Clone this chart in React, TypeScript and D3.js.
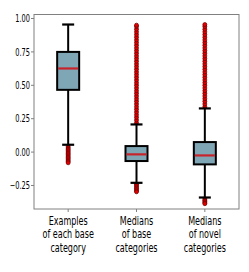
import * as d3 from 'd3';

// box statistics
const categories = [
    ['Examples', 'of each base', 'category'],
    ['Medians', 'of base', 'categories'],
    ['Medians', 'of novel', 'categories'],
];
const q1 = [0.466, -0.067, -0.092];
const medians = [0.626, -0.017, -0.025];
const q3 = [0.75, 0.045, 0.075];
const whiskerLow = [0.055, -0.23, -0.34];
const whiskerHigh = [0.955, 0.207, 0.327];

const outliersBase = [0.04, 0.03, 0.02, 0.01, 0.0, -0.01, -0.02, -0.03, -0.04, -0.05, -0.06, -0.07, -0.08];
const outliersBaseMed = [
    -0.24, -0.25, -0.26, -0.27, -0.28, -0.29, -0.297,
    0.22, 0.24, 0.26, 0.28, 0.30, 0.32, 0.34, 0.36, 0.38, 0.40, 0.42, 0.44, 0.46, 0.48,
    0.50, 0.52, 0.54, 0.56, 0.58, 0.60, 0.62, 0.64, 0.66, 0.68, 0.70, 0.72, 0.74, 0.76,
    0.78, 0.80, 0.82, 0.84, 0.86, 0.88, 0.90, 0.92, 0.94, 0.95,
];
const outliersNovelMed = [
    -0.35, -0.36, -0.37, -0.38, -0.386,
    0.34, 0.36, 0.38, 0.40, 0.42, 0.44, 0.46, 0.48, 0.50, 0.52, 0.54, 0.56, 0.58, 0.60,
    0.62, 0.64, 0.66, 0.68, 0.70, 0.72, 0.74, 0.76, 0.78, 0.80, 0.82, 0.84, 0.86, 0.88,
    0.90, 0.92, 0.94, 0.955,
];
const outliers = [outliersBase, outliersBaseMed, outliersNovelMed];

const yTicks = [-0.25, 0, 0.25, 0.5, 0.75, 1.0];

const W = 249;
const H = 272;
const margin = { top: 14.5, right: 10, bottom: 63, left: 34 };
const FONT = 'DejaVu Sans';

export default function App() {
    const x = d3.scaleLinear().domain([0.5, 3.5]).range([margin.left, W - margin.right]);
    const y = d3.scaleLinear().domain([-0.426, 1.03]).range([H - margin.bottom, margin.top]);
    const boxW = 22;
    const capW = 12;

    return (
        <svg width={W} height={H} style={{ position: 'absolute', left: 0, top: 0, background: '#fff' }}>
            {/* boxes */}
            {categories.map((_, i) => {
                const cx = x(i + 1);
                return (
                    <g key={i}>
                        <line x1={cx} x2={cx} y1={y(q3[i])} y2={y(whiskerHigh[i])} stroke="#000" strokeWidth={2} />
                        <line x1={cx} x2={cx} y1={y(q1[i])} y2={y(whiskerLow[i])} stroke="#000" strokeWidth={2} />
                        {outliers[i].map((v, j) => (
                            <circle key={j} cx={cx} cy={y(v)} r={2} fill="#e00000" stroke="#6a0000" strokeWidth={0.7} />
                        ))}
                        <line x1={cx - capW / 2} x2={cx + capW / 2} y1={y(whiskerHigh[i])} y2={y(whiskerHigh[i])} stroke="#000" strokeWidth={2.2} />
                        <line x1={cx - capW / 2} x2={cx + capW / 2} y1={y(whiskerLow[i])} y2={y(whiskerLow[i])} stroke="#000" strokeWidth={2.2} />
                        <rect
                            x={cx - boxW / 2}
                            y={y(q3[i])}
                            width={boxW}
                            height={y(q1[i]) - y(q3[i])}
                            fill="#7fa6b5"
                            stroke="#000"
                            strokeWidth={2}
                        />
                        <line x1={cx - boxW / 2 + 1} x2={cx + boxW / 2 - 1} y1={y(medians[i])} y2={y(medians[i])} stroke="#c8232b" strokeWidth={2.2} />
                    </g>
                );
            })}

            {/* frame */}
            <rect
                x={margin.left}
                y={margin.top}
                width={W - margin.right - margin.left}
                height={H - margin.bottom - margin.top}
                fill="none"
                stroke="#808080"
                strokeWidth={1}
            />

            {/* y axis */}
            {yTicks.map((t) => (
                <g key={t}>
                    <line x1={margin.left - 3} x2={margin.left} y1={y(t)} y2={y(t)} stroke="#808080" strokeWidth={1} />
                    <text
                        transform={`translate(${margin.left - 4},${y(t)}) scale(0.66,1)`}
                        textAnchor="end"
                        dy="0.36em"
                        fontFamily={FONT}
                        fontSize={10}
                        fill="#000"
                    >
                        {t < 0 ? `\u2212${Math.abs(t).toFixed(2)}` : t.toFixed(2)}
                    </text>
                </g>
            ))}

            {/* x axis */}
            {categories.map((lines, i) => (
                <g key={i}>
                    <line x1={x(i + 1)} x2={x(i + 1)} y1={H - margin.bottom} y2={H - margin.bottom + 3} stroke="#808080" strokeWidth={1} />
                    {lines.map((ln, k) => (
                        <text
                            key={k}
                            transform={`translate(${x(i + 1)},${225 + k * 13.3}) scale(0.7,1)`}
                            textAnchor="middle"
                            fontFamily={FONT}
                            fontSize={11.5}
                            fill="#000"
                        >
                            {ln}
                        </text>
                    ))}
                </g>
            ))}
        </svg>
    );
}
